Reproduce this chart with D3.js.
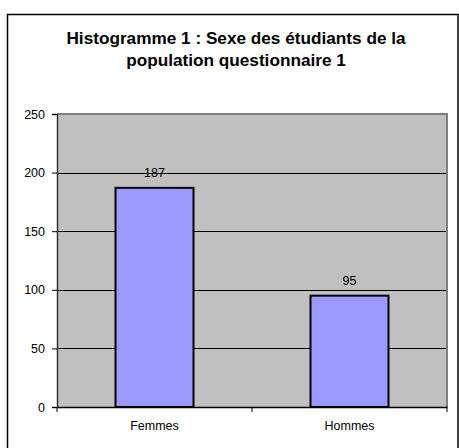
<!DOCTYPE html>
<html>
<head>
<meta charset="utf-8">
<script src="https://cdn.jsdelivr.net/npm/d3@7"></script>
<style>
  body { margin: 0; background: #fff; }
  svg { display: block; font-family: "Liberation Sans", Arial, sans-serif; }
</style>
</head>
<body>
<svg id="chart" width="459" height="448"></svg>
<script>
const categories = ['Femmes', 'Hommes'];
const values = [187, 95];
const yTicks = [0, 50, 100, 150, 200, 250];
const titleLines = ['Histogramme 1 : Sexe des étudiants de la', 'population questionnaire 1'];

const svg = d3.select('#chart');
const plot = { left: 57, top: 114, right: 447, bottom: 407 };

// outer frame
svg.append('rect')
  .attr('x', 7.5).attr('y', 14.5)
  .attr('width', 450.5).attr('height', 450)
  .attr('fill', '#fff').attr('stroke', '#000').attr('stroke-width', 1.5);

svg.append('g').selectAll('text')
  .data(titleLines)
  .join('text')
  .attr('x', 236)
  .attr('y', (d, i) => 44 + i * 22)
  .attr('text-anchor', 'middle')
  .attr('font-size', 17.2)
  .attr('font-weight', 'bold')
  .text(d => d);

const x = d3.scaleBand().domain(categories).range([plot.left, plot.right]).paddingInner(0).paddingOuter(0);
const y = d3.scaleLinear().domain([0, 250]).range([plot.bottom, plot.top]);

svg.append('rect')
  .attr('x', plot.left).attr('y', plot.top)
  .attr('width', plot.right - plot.left).attr('height', plot.bottom - plot.top)
  .attr('fill', '#c0c0c0');

// gridlines
svg.append('g').selectAll('line')
  .data(yTicks.filter(t => t > 0 && t < 250))
  .join('line')
  .attr('x1', plot.left).attr('x2', plot.right)
  .attr('y1', d => Math.round(y(d)) + 0.5).attr('y2', d => Math.round(y(d)) + 0.5)
  .attr('stroke', '#000');

// plot border top/right
svg.append('path')
  .attr('d', `M${plot.left},${plot.top}H${plot.right}V${plot.bottom}`)
  .attr('fill', 'none').attr('stroke', '#808080').attr('stroke-width', 2);

// bars
const barW = x.bandwidth() * 0.4;
svg.append('g').selectAll('rect')
  .data(values)
  .join('rect')
  .attr('x', (d, i) => x(categories[i]) + (x.bandwidth() - barW) / 2)
  .attr('y', d => y(d))
  .attr('width', barW)
  .attr('height', d => y(0) - y(d))
  .attr('fill', '#9999ff')
  .attr('stroke', '#000').attr('stroke-width', 2);

svg.append('g').selectAll('text')
  .data(values)
  .join('text')
  .attr('x', (d, i) => x(categories[i]) + x.bandwidth() / 2)
  .attr('y', d => y(d) - 11)
  .attr('text-anchor', 'middle')
  .attr('font-size', 12.5)
  .text(d => d);

// y axis
const yAxis = svg.append('g')
  .attr('transform', `translate(${plot.left},0)`)
  .call(d3.axisLeft(y).tickValues(yTicks).tickSize(5).tickPadding(7));
yAxis.select('.domain').attr('stroke', '#333').attr('stroke-width', 1.5);
yAxis.selectAll('.tick line').attr('stroke', '#000');
yAxis.selectAll('text').attr('font-size', 12.5).attr('font-family', 'Liberation Sans, Arial, sans-serif').attr('fill', '#000');

// x axis
const xAxis = svg.append('g')
  .attr('transform', `translate(0,${plot.bottom})`)
  .call(d3.axisBottom(x).tickSize(0).tickPadding(14));
xAxis.select('.domain').attr('stroke', '#000').attr('stroke-width', 1.5);
xAxis.selectAll('text').attr('font-size', 12.5).attr('font-family', 'Liberation Sans, Arial, sans-serif').attr('fill', '#000');
xAxis.append('g').selectAll('line')
  .data([0, 1, 2])
  .join('line')
  .attr('x1', d => plot.left + d * x.step()).attr('x2', d => plot.left + d * x.step())
  .attr('y1', 0).attr('y2', 5)
  .attr('stroke', '#000');
</script>
</body>
</html>
